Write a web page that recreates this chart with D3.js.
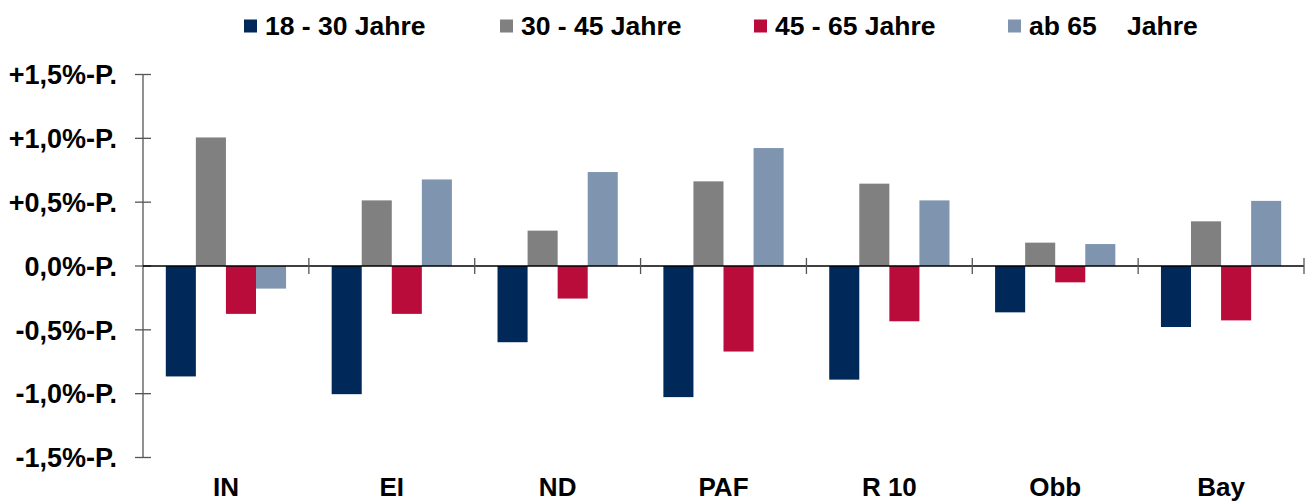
<!DOCTYPE html>
<html>
<head>
<meta charset="utf-8">
<script src="https://cdn.jsdelivr.net/npm/d3@7"></script>
<style>
  html, body { margin: 0; padding: 0; background: #ffffff; }
  svg { display: block; font-family: "Liberation Sans", Arial, sans-serif; font-weight: bold; }
</style>
</head>
<body>
<svg id="chart" width="1312" height="503"></svg>
<script>
const categories = ["IN", "EI", "ND", "PAF", "R 10", "Obb", "Bay"];
const seriesNames = ["18 - 30 Jahre", "30 - 45 Jahre", "45 - 65 Jahre", "ab 65"];
const s18_30 = [-0.865, -1.004, -0.597, -1.027, -0.890, -0.363, -0.478];
const s30_45 = [1.007, 0.514, 0.277, 0.663, 0.645, 0.183, 0.350];
const s45_65 = [-0.375, -0.375, -0.255, -0.670, -0.433, -0.128, -0.426];
const s65plus = [-0.177, 0.678, 0.736, 0.924, 0.514, 0.172, 0.510];
const yTicks = [1.5, 1.0, 0.5, 0, -0.5, -1.0, -1.5];
const yTickLabels = ["+1,5%-P.", "+1,0%-P.", "+0,5%-P.", "0,0%-P.", "-0,5%-P.", "-1,0%-P.", "-1,5%-P."];

const seriesValues = [s18_30, s30_45, s45_65, s65plus];
const colors = ["#002858", "#808080", "#BA0C3A", "#7F95AF"];

const svg = d3.select("#chart");
const left = 143, right = 1304;

const x = d3.scaleBand().domain(categories).range([left, right])
  .paddingInner(0.275).paddingOuter(0.1375);
const xs = d3.scaleBand().domain(d3.range(seriesNames.length)).range([0, x.bandwidth()]);
const y = d3.scaleLinear().domain([-1.5, 1.5]).range([457.5, 74.5]);

// bars
seriesValues.forEach((vals, si) => {
  svg.append("g").selectAll("rect").data(vals).join("rect")
    .attr("x", (d, i) => x(categories[i]) + xs(si))
    .attr("width", xs.bandwidth())
    .attr("y", d => y(Math.max(0, d)))
    .attr("height", d => Math.abs(y(d) - y(0)))
    .attr("fill", colors[si]);
});

// y axis
const yAxis = svg.append("g");
yAxis.append("line")
  .attr("x1", left).attr("x2", left)
  .attr("y1", y(1.5)).attr("y2", y(-1.5))
  .attr("stroke", "#555").attr("stroke-width", 1.3);
yAxis.selectAll("line.tick").data(yTicks).join("line")
  .attr("class", "tick")
  .attr("x1", left - 8).attr("x2", left + 8)
  .attr("y1", d => y(d)).attr("y2", d => y(d))
  .attr("stroke", "#555").attr("stroke-width", 1.3);
yAxis.selectAll("text").data(yTicks).join("text")
  .attr("x", 117)
  .attr("y", d => y(d))
  .attr("dy", "0.36em")
  .attr("text-anchor", "end")
  .attr("font-size", 27)
  .attr("fill", "#000")
  .text((d, i) => yTickLabels[i]);

// zero line
svg.append("line")
  .attr("x1", left).attr("x2", right)
  .attr("y1", y(0)).attr("y2", y(0))
  .attr("stroke", "#000").attr("stroke-width", 1.6);

// category boundary ticks
const gap = (x.step() - x.bandwidth()) / 2;
const bounds = categories.map(c => x(c) - gap).concat([x(categories[categories.length - 1]) + x.bandwidth() + gap]);
svg.append("g").selectAll("line").data(bounds.slice(1)).join("line")
  .attr("x1", d => d).attr("x2", d => d)
  .attr("y1", y(0) - 8).attr("y2", y(0) + 8)
  .attr("stroke", "#555").attr("stroke-width", 1.3);

// category labels
svg.append("g").selectAll("text").data(categories).join("text")
  .attr("x", d => x(d) + x.bandwidth() / 2)
  .attr("y", 496)
  .attr("text-anchor", "middle")
  .attr("font-size", 26)
  .attr("fill", "#000")
  .text(d => d);

// legend
const legendX = [244, 500, 754, 1008];
const lg = svg.append("g");
seriesNames.forEach((name, i) => {
  lg.append("rect")
    .attr("x", legendX[i]).attr("y", 19.5)
    .attr("width", 13).attr("height", 13)
    .attr("fill", colors[i]);
  const t = lg.append("text")
    .attr("x", legendX[i] + 21).attr("y", 34.5)
    .attr("font-size", 26.5)
    .attr("fill", "#000")
    .text(name);
  if (i === 3) {
    t.append("tspan").attr("x", 1127).text("Jahre");
  }
});
</script>
</body>
</html>
